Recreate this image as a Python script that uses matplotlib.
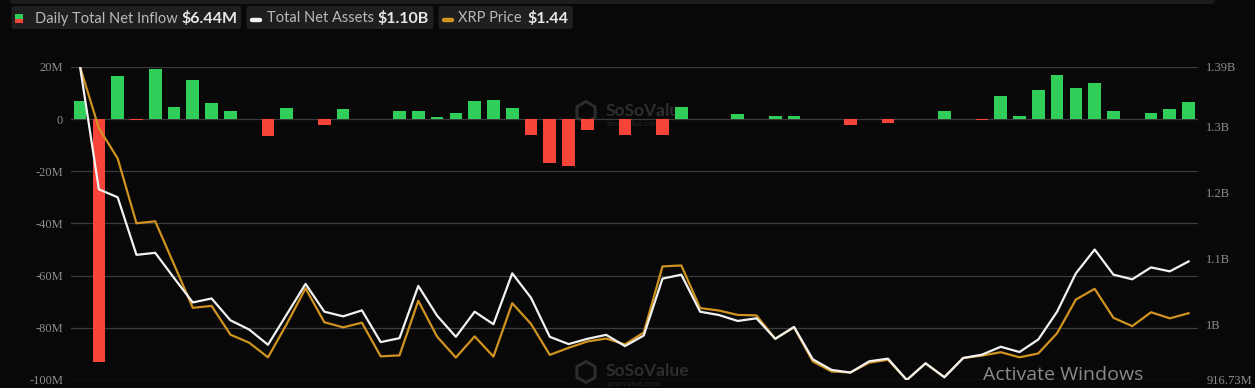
import matplotlib
matplotlib.use("Agg")
import matplotlib.pyplot as plt
from matplotlib.patches import FancyBboxPatch, Rectangle, RegularPolygon
import numpy as np

# ---------------- data ----------------
net_inflow_m = [6.9, -93.1, 16.5, -0.3, 19.1, 4.6, 15.0, 6.2, 3.2, 0.0,
                -6.5, 4.4, 0.0, -2.3, 4.0, 0.0, 0.0, 3.0, 3.0, 1.0,
                2.2, 6.8, 7.5, 4.1, -6.1, -16.7, -18.1, -4.0, 0.0, -6.1,
                0.0, -6.1, 4.5, 0.0, 0.0, 1.8, 0.0, 1.3, 1.2, 0.0,
                0.0, -2.3, 0.0, -1.4, 0.2, 0.0, 3.2, 0.0, -0.5, 9.0,
                1.3, 11.0, 17.1, 11.8, 13.7, 3.0, 0.0, 2.3, 3.8, 6.44]

total_net_assets_b = [1.390, 1.205, 1.193, 1.106, 1.109, 1.071, 1.034, 1.040, 1.007, 0.993,
                      0.970, 1.016, 1.062, 1.020, 1.013, 1.022, 0.974, 0.980, 1.059, 1.014,
                      0.982, 1.020, 1.001, 1.078, 1.041, 0.982, 0.971, 0.979, 0.985, 0.968,
                      0.984, 1.070, 1.076, 1.020, 1.015, 1.006, 1.010, 0.979, 0.997, 0.948,
                      0.932, 0.928, 0.945, 0.949, 0.91673, 0.942, 0.921, 0.950, 0.955, 0.967,
                      0.959, 0.978, 1.020, 1.078, 1.114, 1.076, 1.069, 1.087, 1.081, 1.096]

xrp_price = [2.450, 2.199, 2.075, 1.809, 1.817, 1.640, 1.462, 1.470, 1.352, 1.319,
             1.259, 1.396, 1.542, 1.403, 1.382, 1.401, 1.263, 1.267, 1.491, 1.344,
             1.258, 1.345, 1.262, 1.481, 1.396, 1.269, 1.298, 1.324, 1.336, 1.312,
             1.361, 1.632, 1.636, 1.461, 1.451, 1.433, 1.431, 1.335, 1.382, 1.242,
             1.201, 1.197, 1.237, 1.249, 1.166, 1.234, 1.177, 1.256, 1.266, 1.280,
             1.259, 1.275, 1.358, 1.496, 1.540, 1.421, 1.387, 1.444, 1.419, 1.440]

left_ticks = [20, 0, -20, -40, -60, -80, -100]
left_labels = ["20M", "0", "-20M", "-40M", "-60M", "-80M", "-100M"]
right_ticks = [1.39, 1.3, 1.2, 1.1, 1.0, 0.91673]
right_labels = ["1.39B", "1.3B", "1.2B", "1.1B", "1B", "916.73M"]

legend_items = [("Daily Total Net Inflow", "$6.44M"),
                ("Total Net Assets", "$1.10B"),
                ("XRP Price", "$1.44")]

# ---------------- style ----------------
BG = "#080808"
GREEN = "#2fcf5a"
RED = "#f7443a"
WHITE = "#f2f2f2"
GOLD = "#d09320"
GRID = "#3c3c3c"
TICK = "#8e8e8e"

W, H = 1255, 388
fig = plt.figure(figsize=(W / 100, H / 100), dpi=100, facecolor=BG)

# overlay (pixel coordinates) for decorations, drawn underneath
ov = fig.add_axes([0, 0, 1, 1], zorder=0)
ov.set_xlim(0, W)
ov.set_ylim(H, 0)
ov.axis("off")
ov.patch.set_alpha(0)

# top band
ov.add_patch(FancyBboxPatch((10, -10), 1205, 14, boxstyle="round,pad=0,rounding_size=4",
                            facecolor="#1c1c1c", edgecolor="none"))

# legend boxes
boxes = [(11.5, 229.5), (246.5, 187), (438.5, 134.5)]
for (bx, bw) in boxes:
    ov.add_patch(FancyBboxPatch((bx, 6), bw, 23, boxstyle="round,pad=0,rounding_size=3",
                                facecolor="#1f1f1f", edgecolor="none"))
# icons
ov.add_patch(Rectangle((15, 14), 8, 4.5, facecolor=GREEN, edgecolor="none"))
ov.add_patch(Rectangle((15, 18.5), 8, 4.5, facecolor=RED, edgecolor="none"))
ov.plot([252, 260], [19.5, 19.5], color=WHITE, lw=3.2, solid_capstyle="round")
ov.plot([444, 452], [19.5, 19.5], color=GOLD, lw=3.2, solid_capstyle="round")

label_x = [35, 267, 458]
value_x = [181, 377, 527]
for (lab, val), lx, vx in zip(legend_items, label_x, value_x):
    ov.text(lx, 18.5, lab, color="#b9b9b9", fontsize=10.5, family="Lato", va="center", ha="left")
    ov.text(vx, 18.5, val, color="#e8e8e8", fontsize=11.5, family="Lato", fontweight="bold",
            va="center", ha="left")

# watermarks
for cy in (112, 372):
    ov.add_patch(RegularPolygon((586, cy), numVertices=6, radius=10.5, orientation=0,
                                facecolor="none", edgecolor="#2c2c2c", lw=2.2))
    ov.text(606, cy - 1, "SoSoValue", color="#2e2e2e", fontsize=12.5, family="Lato",
            fontweight="bold", va="center", ha="left")
    ov.text(607, cy + 12, "sosovalue.com", color="#262626", fontsize=6, family="Lato",
            va="center", ha="left")

# ---------------- main axes ----------------
left = 70.7 / W
bottom = (H - 380) / H
width = (1198 - 70.7) / W
height = (380 - 67) / H
ax = fig.add_axes([left, bottom, width, height], zorder=1)
ax.set_facecolor("none")

x = np.arange(len(net_inflow_m))
colors = [GREEN if v >= 0 else RED for v in net_inflow_m]
ax.bar(x, net_inflow_m, width=0.675, color=colors, zorder=2)

ax.set_xlim(-0.5, len(x) - 0.5)
ax.set_ylim(-100, 20)
ax.set_yticks(left_ticks)
ax.set_yticklabels(left_labels)
ax.set_xticks([])
ax.grid(axis="y", color=GRID, lw=0.9, zorder=0)
ax.set_axisbelow(True)
for s in ax.spines.values():
    s.set_visible(False)
ax.tick_params(axis="y", length=0, pad=5.5, labelcolor=TICK, labelsize=9)
for t in ax.get_yticklabels():
    t.set_family("Liberation Serif")

# assets axis (right)
ax2 = ax.twinx()
ax2.plot(x, total_net_assets_b, color=WHITE, lw=1.6, zorder=3)
ax2.set_ylim(min(total_net_assets_b), max(total_net_assets_b))
ax2.set_yticks(right_ticks)
ax2.set_yticklabels(right_labels)
ax2.tick_params(axis="y", length=0, pad=6, labelcolor=TICK, labelsize=9)
for t in ax2.get_yticklabels():
    t.set_family("Liberation Serif")
for s in ax2.spines.values():
    s.set_visible(False)

# price axis (hidden)
ax3 = ax.twinx()
ax3.plot(x, xrp_price, color=GOLD, lw=1.6, zorder=3)
ax3.set_ylim(min(xrp_price), max(xrp_price))
ax3.set_yticks([])
for s in ax3.spines.values():
    s.set_visible(False)
ax2.set_zorder(ax3.get_zorder() + 1)
ax2.patch.set_visible(False)
ax3.patch.set_visible(False)

# OS overlay text
top = fig.add_axes([0, 0, 1, 1], zorder=5)
top.set_xlim(0, W)
top.set_ylim(H, 0)
top.axis("off")
top.patch.set_alpha(0)
top.text(983, 375, "Activate Windows", color="#8a8a8a", fontsize=14, family="Open Sans",
         va="center", ha="left")

fig.savefig("out.png", dpi=100, facecolor=BG)
